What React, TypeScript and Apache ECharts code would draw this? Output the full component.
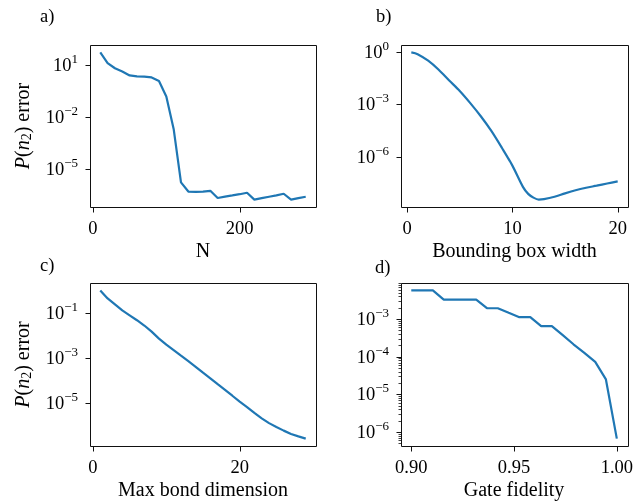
import { useEffect, useRef } from "react";
import * as echarts from "echarts";

// ---- data ----
const nValues = [10, 20, 30, 40, 50, 60, 70, 80, 90, 100, 110, 120, 130, 140, 150, 160, 170, 180, 190, 200, 210, 220, 230, 240, 250, 260, 270, 280, 290];
const nErrors = [5.4e1, 1.3e1, 6.5, 4.2, 2.5, 2.2, 2.1, 1.9, 1.2, 1.5e-1, 2.0e-3, 1.6e-6, 4.7e-7, 4.5e-7, 4.7e-7, 5.2e-7, 2.0e-7, 2.4e-7, 2.8e-7, 3.3e-7, 4.0e-7, 1.6e-7, 1.95e-7, 2.35e-7, 2.8e-7, 3.5e-7, 1.6e-7, 1.95e-7, 2.35e-7];

const boxWidths = [0.4, 1, 2, 3, 4, 5, 6, 7, 8, 9, 10, 11, 11.5, 12, 12.5, 13, 14, 15, 16, 17, 18, 19, 20];
const boxErrors = [1.0, 0.79, 0.33, 0.1, 2.4e-2, 6.0e-3, 1.2e-3, 2.1e-4, 3.0e-5, 3.2e-6, 3.0e-7, 1.8e-8, 7.1e-9, 4.3e-9, 3.3e-9, 3.5e-9, 4.8e-9, 7.6e-9, 1.15e-8, 1.6e-8, 2.1e-8, 2.8e-8, 3.7e-8];

const bondDims = [1, 2, 3, 4, 5, 6, 7, 8, 9, 10, 11, 12, 13, 14, 15, 16, 17, 18, 19, 20, 21, 22, 23, 24, 25, 26, 27, 28, 29];
const bondErrors = [1.0, 0.44, 0.24, 0.13, 7.9e-2, 4.8e-2, 2.8e-2, 1.5e-2, 7.4e-3, 4.0e-3, 2.3e-3, 1.3e-3, 7.4e-4, 4.2e-4, 2.3e-4, 1.3e-4, 7.2e-5, 4.0e-5, 2.2e-5, 1.2e-5, 6.9e-6, 3.8e-6, 2.2e-6, 1.35e-6, 9.1e-7, 6.3e-7, 4.5e-7, 3.5e-7, 2.8e-7];

const gateFidelities = [0.9, 0.9053, 0.9105, 0.9158, 0.9211, 0.9263, 0.9316, 0.9368, 0.9421, 0.9474, 0.9526, 0.9579, 0.9632, 0.9684, 0.9737, 0.9789, 0.9842, 0.9895, 0.9947, 1.0];
const gateErrors = [5.8e-3, 5.8e-3, 5.8e-3, 3.3e-3, 3.3e-3, 3.3e-3, 3.3e-3, 1.95e-3, 1.95e-3, 1.48e-3, 1.13e-3, 1.13e-3, 6.5e-4, 6.5e-4, 3.75e-4, 2.15e-4, 1.27e-4, 7.3e-5, 2.5e-5, 6.7e-7];

// tick labels
const nTicks = [0, 200];
const boxTicks = [0, 10, 20];
const bondTicks = [0, 20];
const fidelityTicks = [0.9, 0.95, 1.0];
const nYExps = [-5, -2, 1];
const boxYExps = [-6, -3, 0];
const bondYExps = [-5, -3, -1];
const fidelityYExps = [-6, -5, -4, -3];

const panelLetters = ["a)", "b)", "c)", "d)"];
const xNames = ["N", "Bounding box width", "Max bond dimension", "Gate fidelity"];

// ---- styling ----
const FONT = "Liberation Serif";
const LINE = "#1f77b4";
const INK = "#111";

const pad = (lo: number, hi: number) => {
  const r = hi - lo;
  return [lo - 0.05 * r, hi + 0.05 * r];
};

const logs = (arr: number[]) => arr.map((v) => Math.log10(v));

const expLabel = (v: number) => {
  const e = Math.round(v);
  return `{b|10}{s|${e < 0 ? "\u2212" + Math.abs(e) : e}}`;
};

const tickRich = {
  b: { fontSize: 18.5, fontFamily: FONT, color: "#000" },
  s: { fontSize: 13, fontFamily: FONT, color: "#000", padding: [0, 0, 13, 0] },
};

const grids = [
  { left: 90, top: 45, width: 226, height: 162 },
  { left: 401, top: 45, width: 227, height: 162 },
  { left: 90, top: 283, width: 226, height: 163 },
  { left: 401, top: 283, width: 227, height: 163 },
];

const xs = [nValues, boxWidths, bondDims, gateFidelities];
const ys = [logs(nErrors), logs(boxErrors), logs(bondErrors), logs(gateErrors)];
const xTickSets = [nTicks, boxTicks, bondTicks, fidelityTicks];
const yTickSets = [nYExps, boxYExps, bondYExps, fidelityYExps];
const xRanges = xs.map((x) => pad(Math.min(...x), Math.max(...x)));
const yRanges = ys.map((y) => pad(Math.min(...y), Math.max(...y)));

function minorTicks(range: number[]) {
  const out: number[] = [];
  for (let n = Math.floor(range[0]); n <= Math.ceil(range[1]); n++) {
    for (let k = 2; k <= 9; k++) {
      const v = n + Math.log10(k);
      if (v >= range[0] && v <= range[1]) out.push(v);
    }
  }
  return out;
}

function buildOption() {
  const xAxis = xs.map((_x, i) => ({
    type: "value",
    gridIndex: i,
    min: xRanges[i][0],
    max: xRanges[i][1],
    name: xNames[i],
    nameLocation: "middle",
    nameGap: 33,
    nameTextStyle: { fontFamily: FONT, fontSize: 20, color: "#000" },
    axisLine: { show: false, onZero: false },
    splitLine: { show: false },
    axisTick: { show: false },
    axisLabel: {
      customValues: xTickSets[i],
      margin: 11,
      fontFamily: FONT,
      fontSize: 18.5,
      color: "#000",
      formatter: (v: number) => (i === 3 ? v.toFixed(2) : String(Math.round(v))),
    },
  }));

  const yLabelName = "{i|P}{r|(}{i|n}{sub|2}{r|) error}";
  const yNameStyle = {
    fontFamily: FONT,
    fontSize: 20,
    color: "#000",
    rich: {
      i: { fontFamily: FONT, fontSize: 20, fontStyle: "italic", color: "#000" },
      r: { fontFamily: FONT, fontSize: 20, color: "#000" },
      sub: { fontFamily: FONT, fontSize: 14, color: "#000", padding: [8, 0, 0, 0] },
    },
  };

  const yAxis = ys.map((_y, i) => ({
    type: "value",
    gridIndex: i,
    min: yRanges[i][0],
    max: yRanges[i][1],
    name: i === 0 || i === 2 ? yLabelName : "",
    nameLocation: "middle",
    nameRotate: 90,
    nameGap: 57,
    nameTextStyle: yNameStyle,
    axisLine: { show: false, onZero: false },
    splitLine: { show: false },
    axisTick: { show: false },
    axisLabel: {
      customValues: yTickSets[i],
      margin: 12,
      formatter: expLabel,
      rich: tickRich,
    },
  }));

  const series = xs.map((x, i) => ({
    type: "line",
    xAxisIndex: i,
    yAxisIndex: i,
    showSymbol: false,
    symbol: "none",
    smooth: i === 1 ? 0.3 : false,
    lineStyle: { color: LINE, width: 2.2 },
    data: x.map((xv, j) => [xv, ys[i][j]]),
  }));

  return {
    animation: false,
    grid: grids,
    xAxis,
    yAxis,
    series,
  };
}

function buildDecorations(chart: echarts.ECharts) {
  const els: any[] = [];
  const stroke = { stroke: INK, lineWidth: 1 };
  const crisp = (v: number) => Math.round(v) + 0.5;
  xs.forEach((_x, i) => {
    const g = grids[i];
    const bottom = crisp(g.top + g.height);
    const left = crisp(g.left);
    els.push({
      type: "rect",
      shape: { x: left, y: crisp(g.top), width: g.width, height: g.height },
      style: { fill: "none", stroke: INK, lineWidth: 1 },
    });
    xTickSets[i].forEach((v) => {
      const p = chart.convertToPixel({ gridIndex: i }, [v, yRanges[i][0]]) as number[];
      const px = crisp(p[0]);
      els.push({ type: "line", shape: { x1: px, y1: bottom, x2: px, y2: bottom + 5 }, style: stroke });
    });
    yTickSets[i].forEach((v) => {
      const p = chart.convertToPixel({ gridIndex: i }, [xRanges[i][0], v]) as number[];
      const py = crisp(p[1]);
      els.push({ type: "line", shape: { x1: left - 5, y1: py, x2: left, y2: py }, style: stroke });
    });
    if (i === 3) {
      minorTicks(yRanges[i]).forEach((v) => {
        const p = chart.convertToPixel({ gridIndex: i }, [xRanges[i][0], v]) as number[];
        const py = crisp(p[1]);
        els.push({ type: "line", shape: { x1: left - 3, y1: py, x2: left, y2: py }, style: { stroke: INK, lineWidth: 0.8 } });
      });
    }
  });
  const letterPos = [
    [40, 16],
    [376, 16],
    [40, 265],
    [375, 267],
  ];
  panelLetters.forEach((t, i) => {
    els.push({
      type: "text",
      x: letterPos[i][0],
      y: letterPos[i][1],
      style: { text: t, fontFamily: FONT, fontSize: 18.5, fill: "#000", verticalAlign: "middle" },
    });
  });
  return els;
}

export default function App() {
  const ref = useRef<HTMLDivElement>(null);
  useEffect(() => {
    const chart = echarts.init(ref.current!, null, { renderer: "svg" });
    chart.setOption(buildOption() as any);
    chart.setOption({ graphic: buildDecorations(chart) } as any);
    return () => chart.dispose();
  }, []);
  return <div ref={ref} style={{ position: "fixed", left: 0, top: 0, width: 636, height: 501 }} />;
}
